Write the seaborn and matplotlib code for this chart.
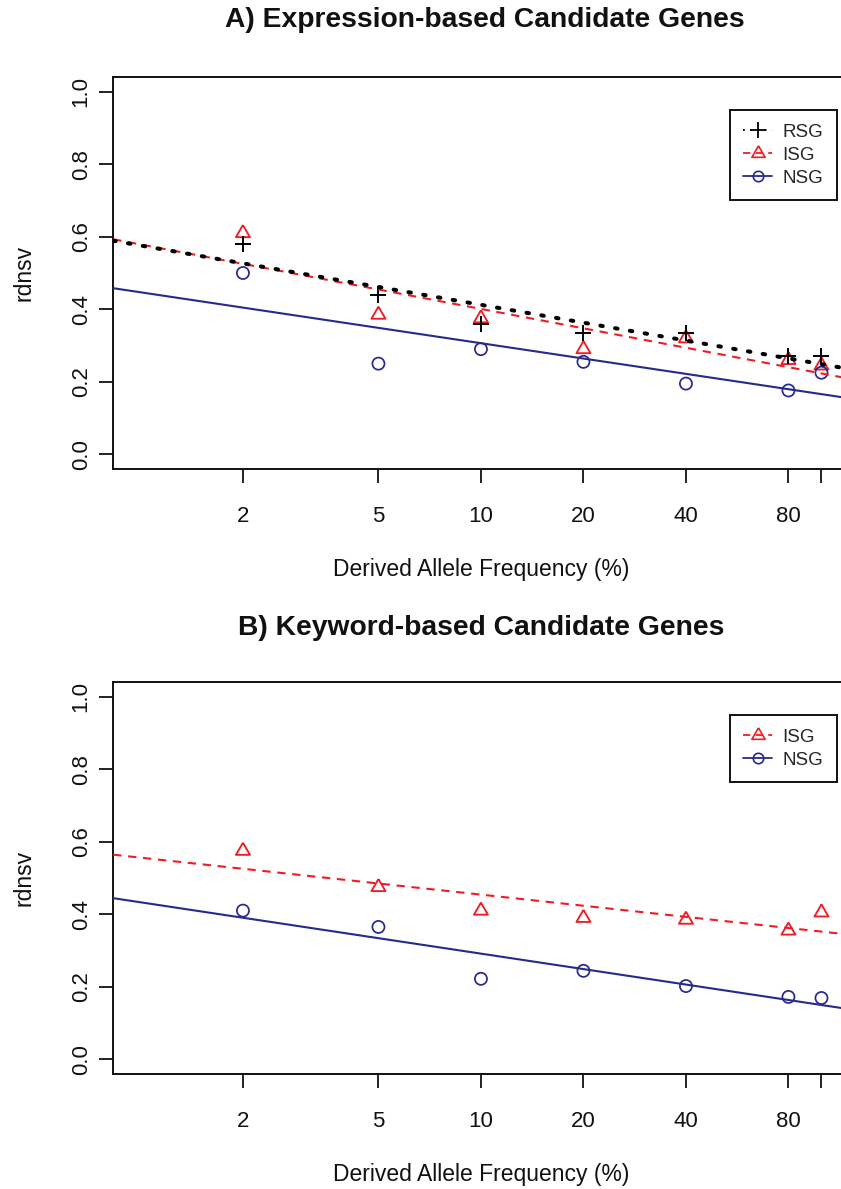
import numpy as np
import pandas as pd
import matplotlib
matplotlib.use("Agg")
import matplotlib.pyplot as plt
import seaborn as sns
from matplotlib.lines import Line2D
from matplotlib.ticker import NullLocator, FixedLocator, FixedFormatter

# ---------------- data ----------------
freq = [2, 5, 10, 20, 40, 80, 100]

a_rsg = [0.58, 0.44, 0.36, 0.335, 0.335, 0.27, 0.27]
a_isg = [0.61, 0.385, 0.375, 0.29, 0.32, 0.26, 0.245]
a_nsg = [0.50, 0.25, 0.29, 0.255, 0.195, 0.176, 0.225]

b_isg = [0.575, 0.475, 0.41, 0.39, 0.385, 0.355, 0.405]
b_nsg = [0.41, 0.365, 0.222, 0.244, 0.202, 0.172, 0.169]

xtick_vals = [2, 5, 10, 20, 40, 80, 100]
xtick_labels = ["2", "5", "10", "20", "40", "80", ""]
ytick_vals = [0.0, 0.2, 0.4, 0.6, 0.8, 1.0]
ytick_labels = ["0.0", "0.2", "0.4", "0.6", "0.8", "1.0"]

titles = ["A) Expression-based Candidate Genes", "B) Keyword-based Candidate Genes"]
xlabel = "Derived Allele Frequency (%)"
ylabel = "rdnsv"

# ---------------- style ----------------
sns.set_style("ticks")
plt.rcParams["font.family"] = ["Liberation Sans", "DejaVu Sans"]

RED = "#ee1c24"
NAVY = "#262a8c"
BLACK = "#000000"
INK = "#111111"

# R-like triangle (centroid at data point)
TRI = [(0.0, 1.555), (1.347, -0.778), (-1.347, -0.778), (0.0, 1.555)]

W, H = 841, 1189
fig = plt.figure(figsize=(W / 100, H / 100), dpi=100)


def px_axes(left, top, right, bottom):
    return fig.add_axes([left / W, 1 - bottom / H, (right - left) / W, (bottom - top) / H])


axA = px_axes(113.2, 77.2, 848.7, 468.8)
axB = px_axes(113.2, 682.2, 848.7, 1073.8)

series_style = {
    "RSG": dict(color=BLACK, marker="+", s=140, face=None, mlw=1.4,
                ls=(0, (0.62, 3.1)), lw=2.9, cap="round"),
    "ISG": dict(color=RED, marker=TRI, s=135, face="none", mlw=1.35,
                ls=(0, (4, 3.2)), lw=1.5, cap="butt"),
    "NSG": dict(color=NAVY, marker="o", s=76, face="none", mlw=1.25,
                ls="-", lw=1.5, cap="butt"),
}


def setup(ax):
    ax.set_xscale("log")
    ax.set_xlim(10 ** -0.08, 10 ** 2.08)
    ax.set_ylim(-0.04, 1.04)


def draw(ax, name, y, z):
    st = series_style[name]
    skw = dict(s=st["s"], linewidths=st["mlw"], alpha=1, zorder=z)
    if st["face"] is not None:
        skw["facecolors"] = st["face"]
    sns.regplot(x=freq, y=y, ax=ax, logx=True, ci=None, truncate=False,
                color=st["color"], marker=st["marker"], scatter_kws=skw,
                line_kws=dict(ls=st["ls"], lw=st["lw"], dash_capstyle=st["cap"],
                              zorder=z + 5))


def finish(ax, names):
    ax.set_xlim(10 ** -0.08, 10 ** 2.08)
    ax.set_ylim(-0.04, 1.04)
    ax.xaxis.set_major_locator(FixedLocator(xtick_vals))
    ax.xaxis.set_major_formatter(FixedFormatter(xtick_labels))
    ax.xaxis.set_minor_locator(NullLocator())
    ax.set_yticks(ytick_vals)
    ax.set_yticklabels(ytick_labels, rotation=90, va="center")
    ax.tick_params(axis="both", direction="out", length=10, width=1.3,
                   labelsize=16, colors=INK)
    ax.tick_params(axis="x", pad=17)
    ax.tick_params(axis="y", pad=5.5)
    for sp in ax.spines.values():
        sp.set_linewidth(1.4)
        sp.set_color(INK)
    ax.set_xlabel(xlabel, fontsize=16.5, color=INK)
    ax.xaxis.set_label_coords(0.5, -0.2584)
    ax.xaxis.label.set_va("center")
    ax.set_ylabel(ylabel, fontsize=16.5, color=INK)
    ax.yaxis.set_label_coords(-0.1213, 0.5)
    ax.yaxis.label.set_va("center")

    handles = []
    for n in names:
        st = series_style[n]
        if n == "RSG":
            h = Line2D([], [], color=st["color"], ls=(0, (1, 3)), lw=1.3,
                       marker="+", markersize=12, markeredgewidth=1.3)
        elif n == "ISG":
            h = Line2D([], [], color=st["color"], ls=(0, (4, 3)), lw=1.3,
                       marker=TRI, markersize=11, markerfacecolor="none",
                       markeredgewidth=1.2)
        else:
            h = Line2D([], [], color=st["color"], ls="-", lw=1.3,
                       marker="o", markersize=7.5, markerfacecolor="none",
                       markeredgewidth=1.2)
        handles.append(h)
    leg = ax.legend(handles, names, loc="upper right",
                    bbox_to_anchor=(0.984, 0.9162), borderaxespad=0,
                    fontsize=13.5, frameon=True, fancybox=False, framealpha=1,
                    edgecolor=INK, borderpad=0.72, handlelength=1.55,
                    handletextpad=0.55, labelspacing=0.32)
    leg.get_frame().set_linewidth(1.4)


setup(axA)
draw(axA, "ISG", a_isg, 3)
draw(axA, "NSG", a_nsg, 3)
draw(axA, "RSG", a_rsg, 4)
finish(axA, ["RSG", "ISG", "NSG"])

setup(axB)
draw(axB, "ISG", b_isg, 3)
draw(axB, "NSG", b_nsg, 3)
finish(axB, ["ISG", "NSG"])

fig.text(485 / W, 1 - 20 / H, titles[0], ha="center", va="center",
         fontsize=20.3, fontweight="bold", color=INK)
fig.text(481 / W, 1 - 628 / H, titles[1], ha="center", va="center",
         fontsize=20.3, fontweight="bold", color=INK)

fig.savefig("out.png", dpi=100)
